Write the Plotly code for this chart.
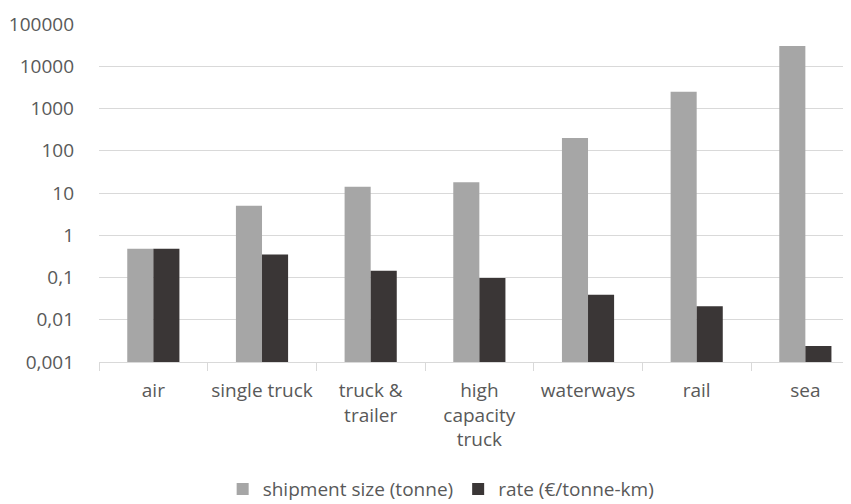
import plotly.graph_objects as go

categories = ["air", "single truck", "truck &<br>trailer", "high<br>capacity<br>truck",
              "waterways", "rail", "sea"]
shipment_size = [0.48, 5.0, 14.0, 18.0, 200.0, 2500.0, 30000.0]
rate = [0.48, 0.35, 0.145, 0.097, 0.039, 0.021, 0.0024]

tick_vals = [0.001, 0.01, 0.1, 1, 10, 100, 1000, 10000, 100000]
tick_text = ["0,001", "0,01", "0,1", "1", "10", "100", "1000", "10000", "100000"]

font_family = "Open Sans, Liberation Sans, sans-serif"
text_color = "#595959"
fs = 19

fig = go.Figure()
fig.add_trace(go.Bar(x=categories, y=shipment_size, name="shipment size (tonne)",
                     marker=dict(color="#a6a6a6", line=dict(width=0))))
fig.add_trace(go.Bar(x=categories, y=rate, name="rate (€/tonne-km)",
                     marker=dict(color="#3a3636", line=dict(width=0))))

fig.update_layout(
    width=843, height=496,
    margin=dict(l=91, r=0, t=16, b=142, autoexpand=False),
    paper_bgcolor="white", plot_bgcolor="white",
    barmode="group", bargap=0.52, bargroupgap=0,
    font=dict(family=font_family, size=fs, color=text_color),
    showlegend=True,
    legend=dict(orientation="h", x=0.455, xanchor="center", y=-0.376, yanchor="middle",
                font=dict(size=fs, color=text_color),
                traceorder="normal", itemsizing="constant"),
    xaxis=dict(range=[-0.5, 6.42], showgrid=False, showline=True, linecolor="#d9d9d9",
               linewidth=1, ticks="outside", tickson="boundaries", ticklen=8,
               tickcolor="#d9d9d9", ticklabelstandoff=11, automargin=False,
               tickangle=0, tickfont=dict(size=fs, color=text_color)),
    yaxis=dict(type="log", range=[-3, 5], tickvals=tick_vals, ticktext=tick_text,
               showgrid=True, gridcolor="#d9d9d9", gridwidth=1, zeroline=False,
               showline=False, ticks="", ticklabelstandoff=24, automargin=False,
               tickfont=dict(size=fs, color=text_color)),
)

fig.write_html("out.html")
